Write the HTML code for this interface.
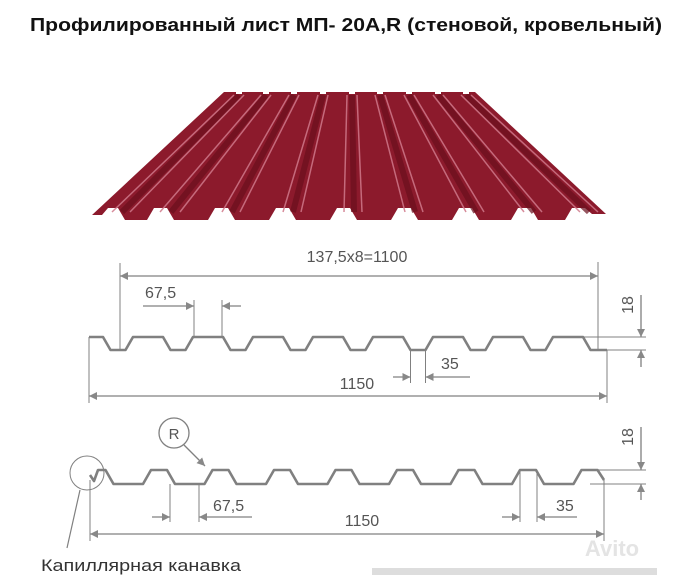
<!DOCTYPE html>
<html><head><meta charset="utf-8"><style>
html,body{margin:0;padding:0;background:#fff;}
svg{display:block;}
</style></head><body>
<svg width="682" height="575" viewBox="0 0 682 575" xmlns="http://www.w3.org/2000/svg" font-family="Liberation Sans, sans-serif">
<defs>
<marker id="a" viewBox="0 0 10 10" refX="10" refY="5" markerWidth="12" markerHeight="8" markerUnits="userSpaceOnUse" orient="auto-start-reverse"><path d="M0,0 L10,5 L0,10 z" fill="#888"/></marker>
</defs>
<text x="346" y="31" text-anchor="middle" font-size="18" font-weight="bold" textLength="632" lengthAdjust="spacingAndGlyphs" fill="#111">Профилированный лист МП- 20А,R (стеновой, кровельный)</text>

<!-- roof sheet -->
<polygon points="224,92 475,92 606,214 592,214 585,208 572,208 565,220 538,220 531,208 518,208 511,220 479,220 472,208 459,208 452,220 418,220 411,208 398,208 391,220 357,220 350,208 337,208 330,220 296,220 289,208 276,208 269,220 235,220 228,208 215,208 208,220 174,220 167,208 154,208 147,220 125,220 118,208 108,208 102,215 92,215" fill="#8c1a2c"/>
<g stroke="#6a0f1d" stroke-width="6" opacity="0.7">
<line x1="239" y1="95" x2="122" y2="212"/><line x1="266" y1="95" x2="171" y2="212"/><line x1="294" y1="95" x2="232" y2="212"/><line x1="323" y1="95" x2="293" y2="212"/><line x1="352" y1="95" x2="354" y2="212"/><line x1="380" y1="95" x2="415" y2="212"/><line x1="409" y1="95" x2="476" y2="212"/><line x1="438" y1="95" x2="534" y2="212"/><line x1="466" y1="95" x2="589" y2="212"/>
</g>
<g stroke="#d0788a" stroke-width="1.5" opacity="0.85">
<line x1="234" y1="95" x2="112" y2="212"/><line x1="244" y1="95" x2="130" y2="212"/><line x1="261" y1="95" x2="160" y2="212"/><line x1="271" y1="95" x2="180" y2="212"/><line x1="289" y1="95" x2="222" y2="212"/><line x1="299" y1="95" x2="240" y2="212"/><line x1="318" y1="95" x2="283" y2="212"/><line x1="328" y1="95" x2="301" y2="212"/><line x1="347" y1="95" x2="344" y2="212"/><line x1="357" y1="95" x2="362" y2="212"/><line x1="375" y1="95" x2="405" y2="212"/><line x1="385" y1="95" x2="423" y2="212"/><line x1="404" y1="95" x2="466" y2="212"/><line x1="414" y1="95" x2="484" y2="212"/><line x1="433" y1="95" x2="524" y2="212"/><line x1="443" y1="95" x2="542" y2="212"/><line x1="461" y1="95" x2="580" y2="212"/><line x1="471" y1="95" x2="598" y2="212"/>
</g>
<g fill="#fff"><rect x="236" y="90" width="6" height="4"/><rect x="263" y="90" width="6" height="4"/><rect x="291" y="90" width="6" height="4"/><rect x="320" y="90" width="6" height="4"/><rect x="349" y="90" width="6" height="4"/><rect x="377" y="90" width="6" height="4"/><rect x="406" y="90" width="6" height="4"/><rect x="435" y="90" width="6" height="4"/><rect x="463" y="90" width="6" height="4"/></g>

<g fill="none" stroke="#808080">
<!-- profile 1 -->
<path stroke-width="2.6" stroke-linejoin="round" d="M89,337 L103,337 L110.5,350 L125.5,350 L133,337 L163,337 L170.5,350 L185.5,350 L193,337 L223,337 L230.5,350 L245.5,350 L253,337 L283,337 L290.5,350 L305.5,350 L313,337 L343,337 L350.5,350 L365.5,350 L373,337 L403,337 L410.5,350 L425.5,350 L433,337 L463,337 L470.5,350 L485.5,350 L493,337 L523,337 L530.5,350 L545.5,350 L553,337 L583,337 L590.5,350 L607,350"/>
<g stroke-width="1">
<line x1="120" y1="263" x2="120" y2="350"/><line x1="598" y1="262" x2="598" y2="350"/>
<line x1="89" y1="337" x2="89" y2="403"/><line x1="607" y1="350" x2="607" y2="403"/>
<line x1="194" y1="300" x2="194" y2="337"/><line x1="222" y1="300" x2="222" y2="337"/>
<line x1="410.5" y1="350" x2="410.5" y2="383"/><line x1="425.5" y1="350" x2="425.5" y2="383"/>
<line x1="583" y1="337" x2="646" y2="337"/><line x1="607" y1="350" x2="646" y2="350"/>
</g>
<g stroke-width="1.3">
<line x1="120" y1="276" x2="598" y2="276" marker-start="url(#a)" marker-end="url(#a)"/>
<line x1="89" y1="396" x2="607" y2="396" marker-start="url(#a)" marker-end="url(#a)"/>
<line x1="143" y1="306" x2="194" y2="306" marker-end="url(#a)"/><line x1="241" y1="306" x2="222" y2="306" marker-end="url(#a)"/>
<line x1="393" y1="377" x2="410.5" y2="377" marker-end="url(#a)"/><line x1="470" y1="377" x2="425.5" y2="377" marker-end="url(#a)"/>
<line x1="641" y1="295" x2="641" y2="337" marker-end="url(#a)"/><line x1="641" y1="367" x2="641" y2="350" marker-end="url(#a)"/>
</g>

<!-- profile 2 -->
<path stroke-width="2.6" stroke-linejoin="round" d="M90,475 L94,481 L98,470 L105.5,470 L113.5,484 L143,484 L151,470 L167,470 L175,484 L204.5,484 L212.5,470 L228.5,470 L236.5,484 L266,484 L274,470 L290,470 L298,484 L327.5,484 L335.5,470 L351.5,470 L359.5,484 L389,484 L397,470 L413,470 L421,484 L450.5,484 L458.5,470 L474.5,470 L482.5,484 L512,484 L520,470 L536,470 L544,484 L573.5,484 L581.5,470 L597.5,470 L604,480"/>
<g stroke-width="1">
<line x1="90" y1="480" x2="90" y2="541"/><line x1="604" y1="480" x2="604" y2="541"/>
<line x1="170" y1="484" x2="170" y2="522"/><line x1="199" y1="484" x2="199" y2="522"/>
<line x1="520" y1="470" x2="520" y2="522"/><line x1="537" y1="470" x2="537" y2="522"/>
<line x1="597" y1="470" x2="646" y2="470"/><line x1="590" y1="484" x2="646" y2="484"/>
</g>
<g stroke-width="1.3">
<line x1="90" y1="534" x2="604" y2="534" marker-start="url(#a)" marker-end="url(#a)"/>
<line x1="152" y1="517" x2="170" y2="517" marker-end="url(#a)"/><line x1="252" y1="517" x2="199" y2="517" marker-end="url(#a)"/>
<line x1="502" y1="517" x2="520" y2="517" marker-end="url(#a)"/><line x1="577" y1="517" x2="537" y2="517" marker-end="url(#a)"/>
<line x1="641" y1="427" x2="641" y2="470" marker-end="url(#a)"/><line x1="641" y1="500" x2="641" y2="484" marker-end="url(#a)"/>
</g>
<circle cx="174" cy="433" r="15" stroke-width="1.3"/>
<line x1="184" y1="445" x2="205" y2="466" stroke-width="1.3" marker-end="url(#a)"/>
<circle cx="87" cy="473" r="17" stroke-width="1"/>
<line x1="80" y1="490" x2="67" y2="548" stroke-width="1.2"/>
</g>

<g fill="#555" font-size="16">
<text x="357" y="262" text-anchor="middle">137,5x8=1100</text>
<text x="145" y="298">67,5</text>
<text x="441" y="369">35</text>
<text x="357" y="389" text-anchor="middle">1150</text>
<text transform="translate(633,305) rotate(-90)" text-anchor="middle">18</text>
<text x="174" y="439" text-anchor="middle" font-size="15">R</text>
<text x="213" y="511">67,5</text>
<text x="362" y="526" text-anchor="middle">1150</text>
<text x="556" y="511">35</text>
<text transform="translate(633,437) rotate(-90)" text-anchor="middle">18</text>
</g>
<text x="41" y="571" font-size="17" fill="#333" textLength="200" lengthAdjust="spacingAndGlyphs">Капиллярная канавка</text>
<text x="612" y="556" text-anchor="middle" font-size="22" font-weight="bold" fill="#e4e4e4">Avito</text>
<rect x="372" y="568" width="285" height="7" fill="#ddd"/>
</svg>
</body></html>
